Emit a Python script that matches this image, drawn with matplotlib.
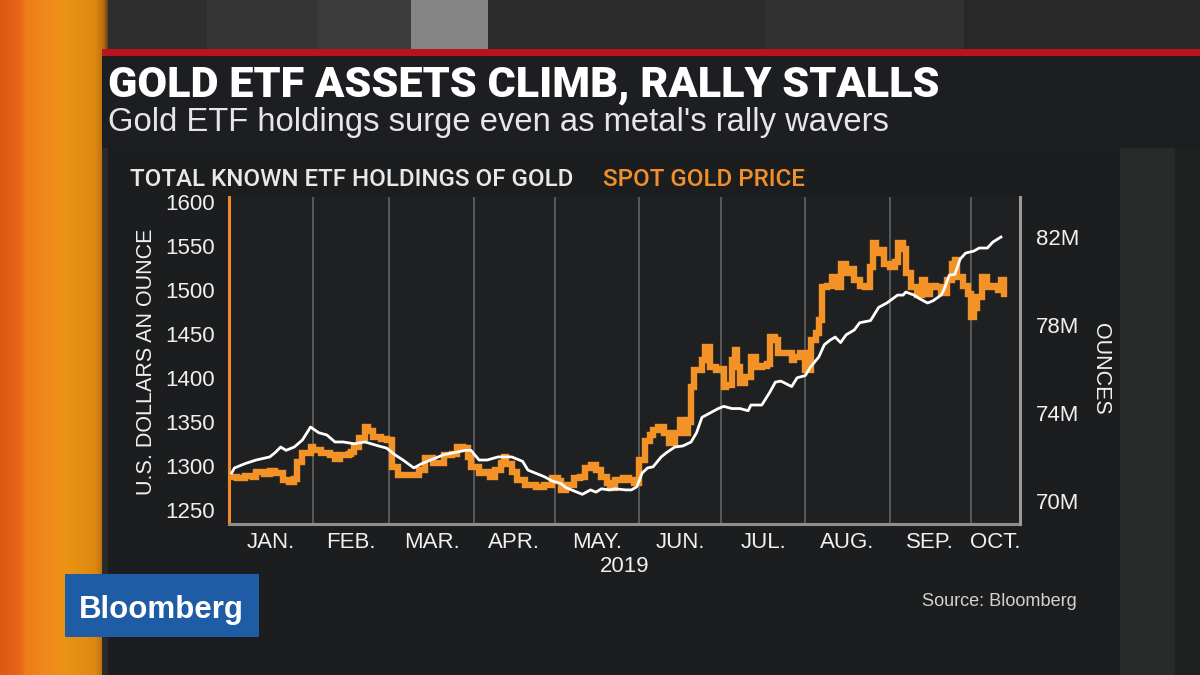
import numpy as np
import pandas as pd
import matplotlib
matplotlib.use("Agg")
import matplotlib.pyplot as plt
import matplotlib.colors as mcolors
from matplotlib.patches import Rectangle

# ---------------- data ----------------
gold_dates = [
    "2019-01-02", "2019-01-04", "2019-01-07", "2019-01-10", "2019-01-11", "2019-01-14",
    "2019-01-16", "2019-01-18", "2019-01-21", "2019-01-23", "2019-01-25", "2019-01-26",
    "2019-01-28", "2019-01-31", "2019-02-01", "2019-02-04", "2019-02-07", "2019-02-09",
    "2019-02-11", "2019-02-14", "2019-02-15", "2019-02-16", "2019-02-18", "2019-02-20",
    "2019-02-21", "2019-02-23", "2019-02-26", "2019-02-28", "2019-03-02", "2019-03-04",
    "2019-03-08", "2019-03-12", "2019-03-14", "2019-03-17", "2019-03-21", "2019-03-24",
    "2019-03-26", "2019-03-28", "2019-03-30", "2019-03-31", "2019-04-03", "2019-04-05",
    "2019-04-07", "2019-04-09", "2019-04-11", "2019-04-12", "2019-04-13", "2019-04-15",
    "2019-04-17", "2019-04-20", "2019-04-22", "2019-04-24", "2019-04-27", "2019-04-30",
    "2019-05-02", "2019-05-03", "2019-05-05", "2019-05-08", "2019-05-10", "2019-05-12",
    "2019-05-14", "2019-05-16", "2019-05-18", "2019-05-20", "2019-05-21", "2019-05-23",
    "2019-05-26", "2019-05-28", "2019-05-30", "2019-06-01", "2019-06-03", "2019-06-05",
    "2019-06-06", "2019-06-08", "2019-06-10", "2019-06-12", "2019-06-14", "2019-06-16",
    "2019-06-18", "2019-06-19", "2019-06-20", "2019-06-21", "2019-06-24", "2019-06-25",
    "2019-06-27", "2019-06-29", "2019-07-01", "2019-07-02", "2019-07-03", "2019-07-05",
    "2019-07-06", "2019-07-07", "2019-07-08", "2019-07-10", "2019-07-12", "2019-07-14",
    "2019-07-16", "2019-07-18", "2019-07-19", "2019-07-21", "2019-07-22", "2019-07-25",
    "2019-07-27", "2019-07-28", "2019-07-30", "2019-08-01", "2019-08-03", "2019-08-05",
    "2019-08-06", "2019-08-07", "2019-08-09", "2019-08-11", "2019-08-13", "2019-08-14",
    "2019-08-16", "2019-08-17", "2019-08-19", "2019-08-21", "2019-08-23", "2019-08-25",
    "2019-08-26", "2019-08-27", "2019-08-29", "2019-08-30", "2019-09-01", "2019-09-03",
    "2019-09-04", "2019-09-06", "2019-09-07", "2019-09-09", "2019-09-11", "2019-09-13",
    "2019-09-14", "2019-09-16", "2019-09-18", "2019-09-20", "2019-09-22", "2019-09-24",
    "2019-09-25", "2019-09-26", "2019-09-28", "2019-09-30", "2019-10-01", "2019-10-02",
    "2019-10-03", "2019-10-05", "2019-10-07", "2019-10-09", "2019-10-11", "2019-10-12",
    "2019-10-13",
]
gold_price = [
    1287, 1286, 1289, 1287, 1293, 1291,
    1294, 1292, 1284, 1282, 1285, 1305,
    1315, 1322, 1318, 1315, 1312, 1308,
    1312, 1314, 1316, 1322, 1332, 1344,
    1340, 1333, 1331, 1330, 1299, 1290,
    1290, 1295, 1309, 1303, 1312, 1314,
    1322, 1320, 1310, 1299, 1292, 1293,
    1287, 1295, 1303, 1310, 1302, 1293,
    1284, 1278, 1278, 1276, 1278, 1286,
    1283, 1273, 1278, 1286, 1287, 1298,
    1301, 1295, 1287, 1281, 1275, 1284,
    1286, 1284, 1281, 1307, 1328, 1335,
    1341, 1344, 1337, 1326, 1337, 1352,
    1337, 1350, 1390, 1409, 1420, 1435,
    1412, 1409, 1410, 1390, 1392, 1420,
    1432, 1412, 1394, 1401, 1424, 1412,
    1414, 1416, 1447, 1443, 1428, 1428,
    1420, 1424, 1428, 1409, 1443, 1451,
    1466, 1503, 1505, 1515, 1503, 1530,
    1519, 1524, 1511, 1505, 1503, 1526,
    1553, 1542, 1545, 1530, 1526, 1532,
    1553, 1547, 1519, 1503, 1494, 1511,
    1495, 1505, 1503, 1497, 1511, 1530,
    1534, 1515, 1505, 1496, 1469, 1480,
    1492, 1515, 1503, 1505, 1500, 1511,
    1496,
]

etf_dates = [
    "2019-01-02", "2019-01-03", "2019-01-07", "2019-01-11", "2019-01-16", "2019-01-18",
    "2019-01-20", "2019-01-22", "2019-01-25", "2019-01-28", "2019-01-31", "2019-02-03",
    "2019-02-06", "2019-02-09", "2019-02-12", "2019-02-16", "2019-02-20", "2019-02-25",
    "2019-02-28", "2019-03-03", "2019-03-06", "2019-03-10", "2019-03-13", "2019-03-17",
    "2019-03-21", "2019-03-25", "2019-03-29", "2019-03-31", "2019-04-03", "2019-04-06",
    "2019-04-10", "2019-04-15", "2019-04-19", "2019-04-21", "2019-04-23", "2019-04-27",
    "2019-04-30", "2019-05-03", "2019-05-05", "2019-05-09", "2019-05-11", "2019-05-14",
    "2019-05-16", "2019-05-18", "2019-05-21", "2019-05-23", "2019-05-27", "2019-05-29",
    "2019-05-31", "2019-06-02", "2019-06-04", "2019-06-06", "2019-06-09", "2019-06-11",
    "2019-06-14", "2019-06-17", "2019-06-20", "2019-06-22", "2019-06-24", "2019-06-27",
    "2019-06-30", "2019-07-02", "2019-07-05", "2019-07-08", "2019-07-11", "2019-07-12",
    "2019-07-16", "2019-07-19", "2019-07-21", "2019-07-23", "2019-07-27", "2019-07-29",
    "2019-08-01", "2019-08-03", "2019-08-06", "2019-08-08", "2019-08-10", "2019-08-12",
    "2019-08-14", "2019-08-16", "2019-08-19", "2019-08-21", "2019-08-25", "2019-08-28",
    "2019-08-31", "2019-09-04", "2019-09-06", "2019-09-07", "2019-09-10", "2019-09-12",
    "2019-09-15", "2019-09-17", "2019-09-20", "2019-09-21", "2019-09-23", "2019-09-25",
    "2019-09-27", "2019-09-29", "2019-10-02", "2019-10-04", "2019-10-07", "2019-10-09",
    "2019-10-12",
]
etf_moz = [
    71.27, 71.5, 71.7, 71.86, 72.0, 72.2,
    72.45, 72.3, 72.45, 72.77, 73.36, 73.1,
    73.0, 72.68, 72.68, 72.6, 72.68, 72.5,
    72.4, 72.1, 71.86, 71.5, 71.7, 71.9,
    72.1, 72.2, 72.3, 72.3, 71.86, 71.86,
    72.0, 72.0, 71.8, 71.4, 71.3, 71.1,
    70.9, 70.8, 70.6, 70.4, 70.3, 70.5,
    70.4, 70.55, 70.5, 70.55, 70.5, 70.5,
    70.64, 71.27, 71.5, 71.55, 72.0, 72.2,
    72.45, 72.5, 72.68, 73.1, 73.8, 74.0,
    74.2, 74.3, 74.2, 74.2, 74.1, 74.36,
    74.36, 74.95, 75.4, 75.45, 75.2, 75.6,
    75.7, 76.1, 76.55, 77.1, 77.3, 77.45,
    77.2, 77.55, 77.77, 78.1, 78.2, 78.8,
    79.0, 79.36, 79.36, 79.5, 79.36, 79.2,
    79.0, 79.1, 79.36, 79.6, 80.27, 80.3,
    81.0, 81.27, 81.36, 81.5, 81.5, 81.77,
    82.0,
]

month_starts = ["2019-01-01", "2019-02-01", "2019-03-01", "2019-04-01", "2019-05-01",
                "2019-06-01", "2019-07-01", "2019-08-01", "2019-09-01", "2019-10-01"]
month_labels = ["JAN.", "FEB.", "MAR.", "APR.", "MAY.", "JUN.", "JUL.", "AUG.", "SEP.", "OCT."]
x_end = "2019-10-19"
year_label = "2019"

price_ticks = [1250, 1300, 1350, 1400, 1450, 1500, 1550, 1600]
etf_ticks = [70, 74, 78, 82]
etf_tick_labels = ["70M", "74M", "78M", "82M"]

title = "GOLD ETF ASSETS CLIMB, RALLY STALLS"
subtitle = "Gold ETF holdings surge even as metal's rally wavers"
legend_etf = "TOTAL KNOWN ETF HOLDINGS OF GOLD"
legend_gold = "SPOT GOLD PRICE"
left_label = "U.S. DOLLARS AN OUNCE"
right_label = "OUNCES"
source = "Source: Bloomberg"
brand = "Bloomberg"

# ---------------- styling ----------------
ORANGE = "#f39226"
WHITE = "#ffffff"
TXT = "#f0f0f0"
SANS = ["Liberation Sans", "Arial", "DejaVu Sans"]
ROBO = ["Roboto", "Liberation Sans", "DejaVu Sans"]

W, H = 1200, 675
fig = plt.figure(figsize=(12, 6.75), dpi=100)
fig.patch.set_facecolor("#242526")

# background canvas in pixel coordinates
bg = fig.add_axes([0, 0, 1, 1], zorder=-10)
bg.set_xlim(0, W)
bg.set_ylim(H, 0)
bg.axis("off")


def rect(x0, y0, x1, y1, color, z=1):
    bg.add_patch(Rectangle((x0, y0), x1 - x0, y1 - y0, facecolor=color,
                           edgecolor="none", zorder=z))


# orange gradient strip at left
stops_x = [0, 20, 26, 55, 66, 95, 104, 110]
stops_c = ["#de5812", "#e6661a", "#ee7e18", "#f08e1c", "#ea9414", "#dd8a10", "#b86c10", "#3a2a1a"]
xs = np.linspace(0, 110, 220)
rgb = np.array([mcolors.to_rgb(c) for c in stops_c])
grad = np.stack([np.interp(xs, stops_x, rgb[:, k]) for k in range(3)], axis=-1)[None, :, :]
bg.imshow(grad, extent=[0, 110, H, 0], aspect="auto", zorder=0.5, interpolation="bilinear")

# blurred studio blocks at top
blocks = [(108, 207, "#2e2e2e"), (207, 318, "#353535"), (318, 411, "#3c3c3c"),
          (411, 488, "#858585"), (488, 765, "#2c2c2c"), (765, 964, "#313131"),
          (964, 1200, "#282828")]
for x0, x1, c in blocks:
    rect(x0, 0, x1, 50, c)

rect(102, 49, 1200, 56, "#b8141b", z=2)      # red rule
rect(102, 56, 1200, 148, "#1d1e21", z=2)     # title band
rect(102, 148, 108, 675, "#2a2a2a")
rect(108, 148, 1120, 675, "#1c1d1f")         # chart panel
rect(1120, 148, 1175, 675, "#292b2b")
rect(1175, 148, 1200, 675, "#1f2121")
rect(65, 574, 259, 637, "#1f5ca6", z=3)      # Bloomberg box

renderer = fig.canvas.get_renderer()


def fit(t, width):
    bb = t.get_window_extent(renderer=renderer)
    t.set_fontsize(t.get_fontsize() * width / bb.width)
    return t


fit(bg.text(108, 97, title, color=WHITE, family=ROBO, weight="black",
            fontsize=30, va="baseline", ha="left", zorder=5), 830)
fit(bg.text(108, 131, subtitle, color="#e6e6e6", family=SANS,
            fontsize=21, va="baseline", ha="left", zorder=5), 780)
fit(bg.text(130, 186, legend_etf, color="#e8e8e8", family=ROBO, weight="medium",
            fontsize=16, va="baseline", ha="left", zorder=5), 443)
fit(bg.text(603, 186, legend_gold, color="#f0902c", family=ROBO, weight="medium",
            fontsize=16, va="baseline", ha="left", zorder=5), 202)
fit(bg.text(79, 618, brand, color=WHITE, family=SANS, weight="bold",
            fontsize=22, va="baseline", ha="left", zorder=5), 165)
fit(bg.text(922, 606, source, color="#d2d2d2", family=SANS,
            fontsize=11, va="baseline", ha="left", zorder=5), 155)
bg.text(146, 362, left_label, color=TXT, family=SANS, fontsize=15.5,
        rotation=90, va="center", ha="center", zorder=5)
bg.text(1101, 369, right_label, color=TXT, family=SANS, fontsize=15.5,
        rotation=270, va="center", ha="center", zorder=5)
bg.text(624.5, 567, year_label, color=TXT, family=SANS, fontsize=16,
        va="center", ha="center", zorder=5)

# ---------------- chart ----------------
L, R, T, B = 229, 1020, 197, 524
ax = fig.add_axes([L / W, 1 - B / H, (R - L) / W, (B - T) / H])
ax.set_facecolor("#1f2022")
ax2 = ax.twinx()

gd = pd.to_datetime(gold_dates)
ed = pd.to_datetime(etf_dates)
ms = pd.to_datetime(month_starts)
xend = pd.Timestamp(x_end)

ax.step(gd, gold_price, where="post", color=ORANGE, lw=4.6,
        solid_joinstyle="miter", zorder=2)
ax2.plot(ed, etf_moz, color=WHITE, lw=2.0, zorder=3, solid_joinstyle="round")

ax.set_xlim(ms[0], xend)
ax.set_ylim(1234, 1605.7)
ax2.set_ylim(68.95, 83.82)

# month gridlines at month starts, labels in middle of months
ax.set_xticks(list(ms[1:]))
ax.set_xticklabels([""] * (len(ms) - 1))
edges = list(ms) + [xend]
mids = [edges[i] + (edges[i + 1] - edges[i]) / 2 for i in range(len(ms))]
ax.set_xticks(mids, minor=True)
ax.set_xticklabels(month_labels, minor=True)
ax.grid(axis="x", which="major", color="#5c5d5f", lw=1.3)
ax.set_axisbelow(True)
ax.tick_params(axis="x", which="both", length=0, pad=6, labelsize=16,
               labelcolor=TXT)
for lab in ax.get_xticklabels(minor=True):
    lab.set_family(SANS)

ax.set_yticks(price_ticks)
ax.set_yticklabels([str(v) for v in price_ticks], family=SANS)
ax.tick_params(axis="y", length=0, pad=10, labelsize=16, labelcolor=TXT)

ax2.set_yticks(etf_ticks)
ax2.set_yticklabels(etf_tick_labels, family=SANS)
ax2.tick_params(axis="y", length=0, pad=11.5, labelsize=16, labelcolor=TXT)

for s in ["top", "right"]:
    ax.spines[s].set_visible(False)
ax.spines["left"].set_color("#f08a24")
ax.spines["left"].set_linewidth(2.2)
ax.spines["bottom"].set_color("#8e8e8e")
ax.spines["bottom"].set_linewidth(2.2)
for s in ["top", "left", "bottom"]:
    ax2.spines[s].set_visible(False)
ax2.spines["right"].set_color("#9a9a9a")
ax2.spines["right"].set_linewidth(2.2)

fig.savefig("out.png", dpi=100, facecolor=fig.get_facecolor())
